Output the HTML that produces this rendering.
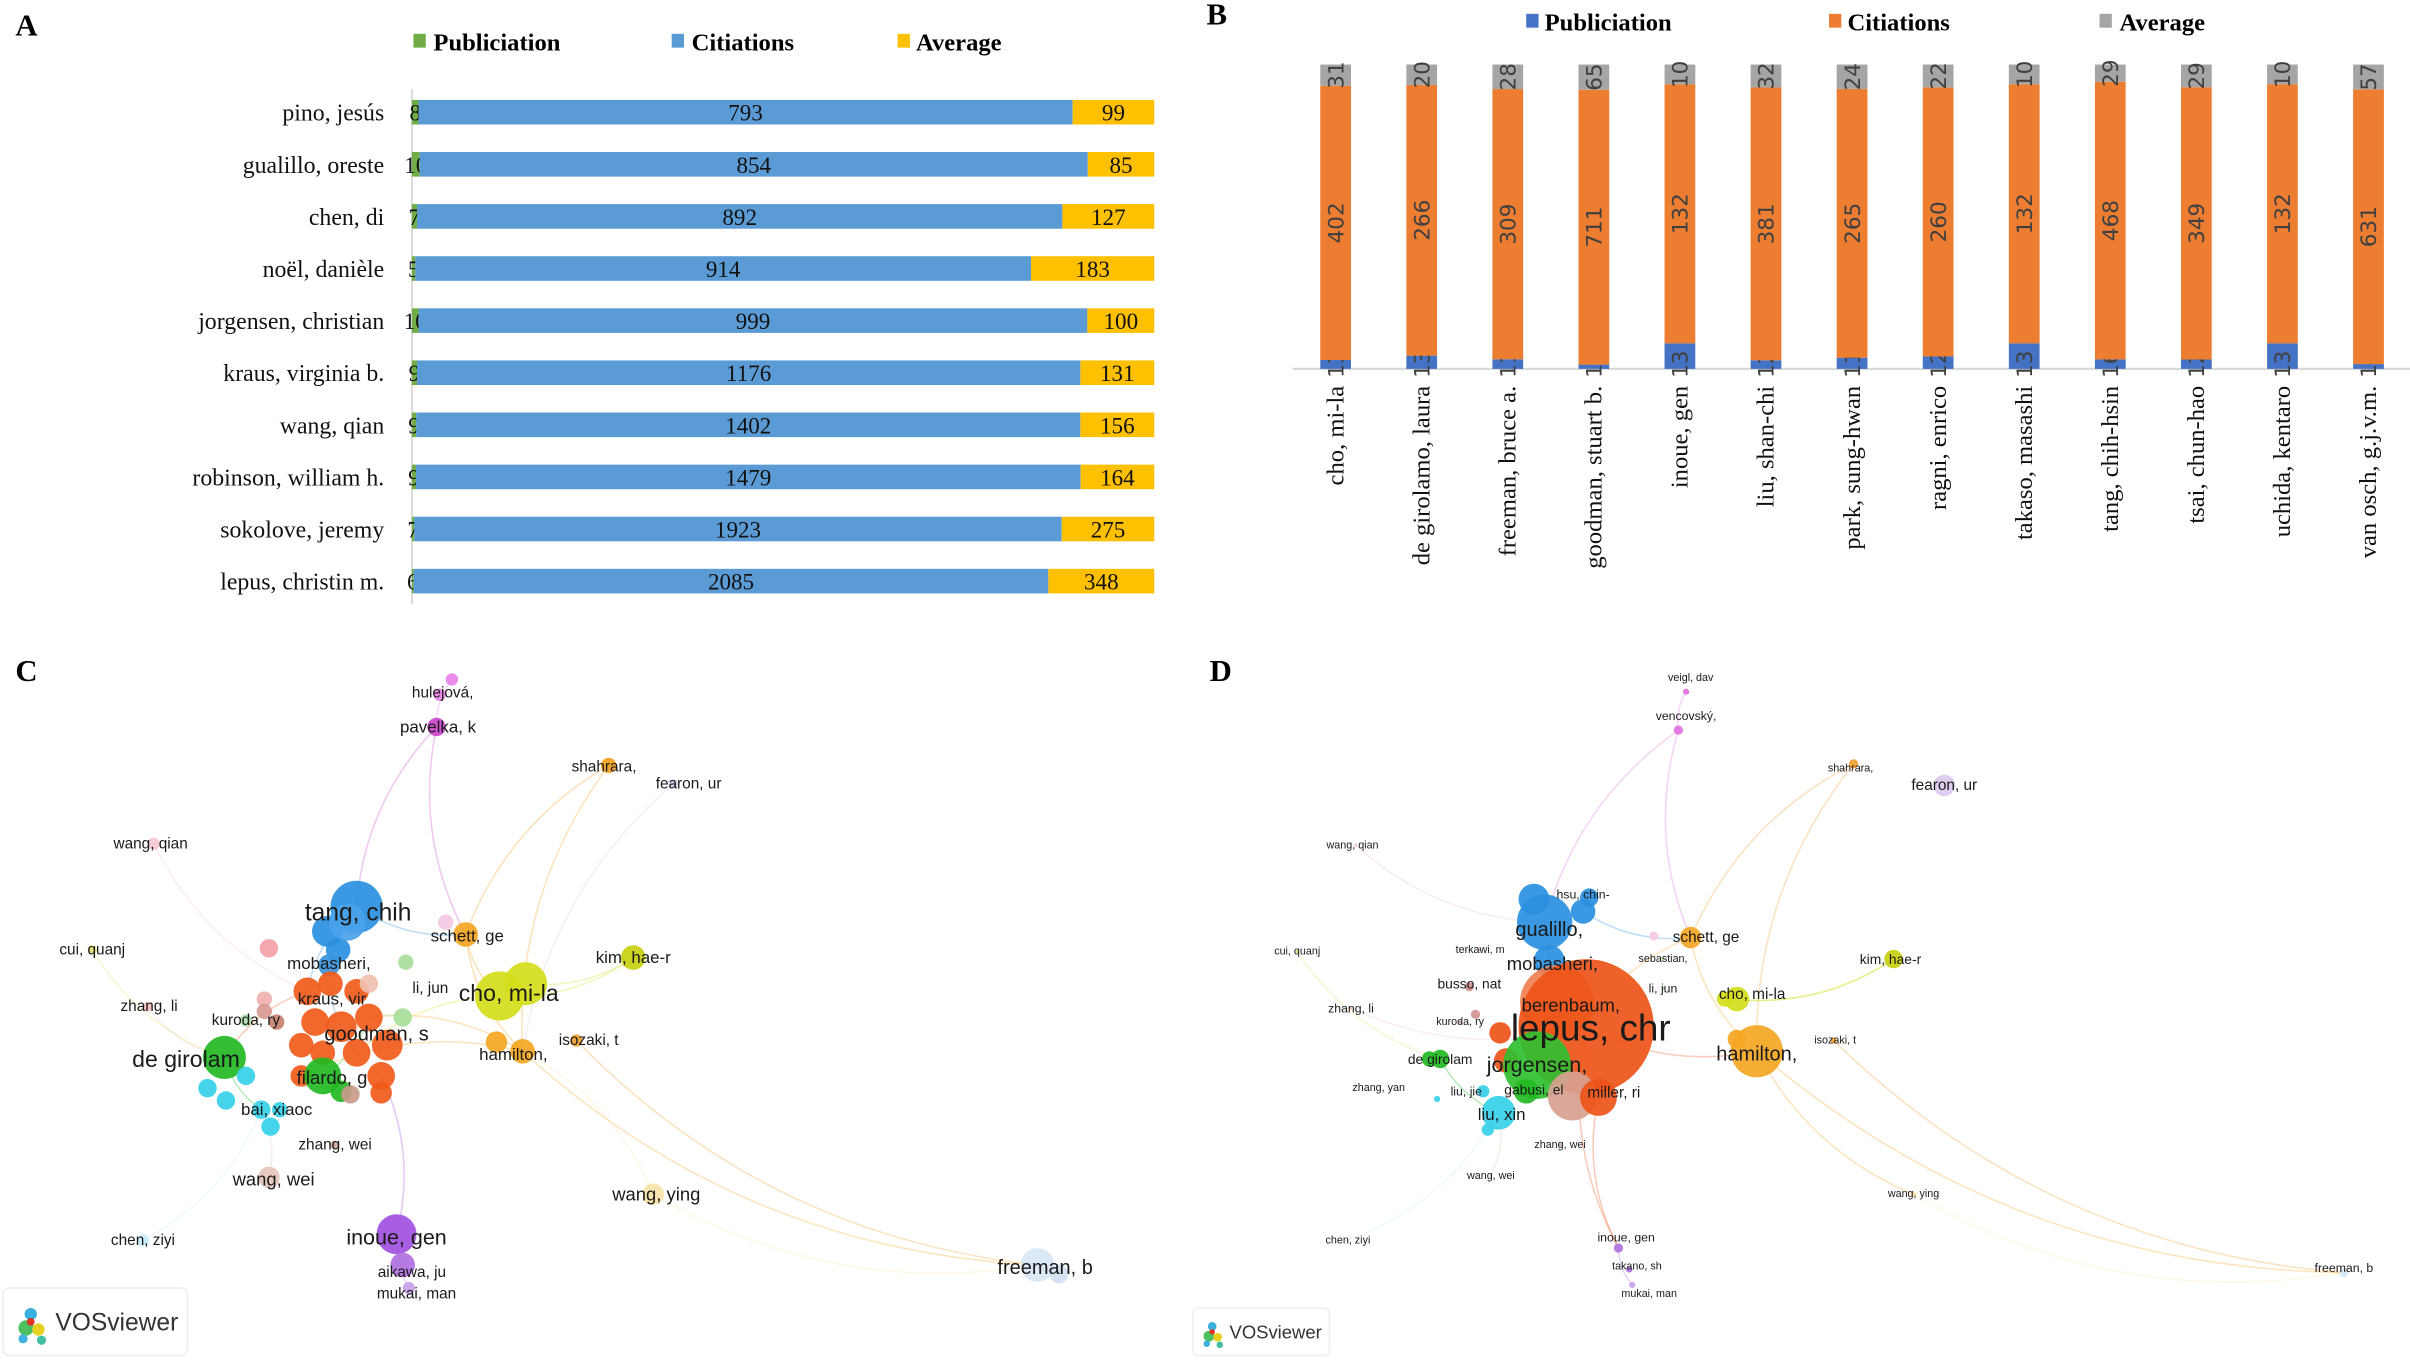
<!DOCTYPE html>
<html><head><meta charset="utf-8">
<style>
html,body{margin:0;padding:0;background:#fff;}
svg{display:block;}
</style></head>
<body>
<svg id="fig" width="2410" height="1361" viewBox="0 0 1568 885.5" xmlns="http://www.w3.org/2000/svg">
<rect width="1568" height="885.5" fill="#fff"/>
<g id="panelA">
  <text x="10" y="23" font-family="Liberation Serif, serif" font-weight="bold" font-size="20">A</text>
  <g font-family="Liberation Serif, serif" font-weight="bold" font-size="16">
    <rect x="269" y="22" width="8" height="9" fill="#70ad47"/>
    <text x="282" y="33">Publiciation</text>
    <rect x="437" y="22" width="8" height="9" fill="#5b9bd5"/>
    <text x="450" y="33">Citiations</text>
    <rect x="584" y="22" width="8" height="9" fill="#ffc000"/>
    <text x="596" y="33">Average</text>
  </g>
  <line x1="268" y1="58" x2="268" y2="393" stroke="#d9d9d9" stroke-width="1.2"/>
</g>
<g id="panelB">
  <text x="785" y="16" font-family="Liberation Serif, serif" font-weight="bold" font-size="20">B</text>
  <g font-family="Liberation Serif, serif" font-weight="bold" font-size="16">
    <rect x="993" y="9" width="8" height="9" fill="#4472c4"/>
    <text x="1005" y="20">Publiciation</text>
    <rect x="1190" y="9" width="8" height="9" fill="#ed7d31"/>
    <text x="1202" y="20">Citiations</text>
    <rect x="1366" y="9" width="8" height="9" fill="#a5a5a5"/>
    <text x="1379" y="20">Average</text>
  </g>
  <line x1="841" y1="240" x2="1568" y2="240" stroke="#d9d9d9" stroke-width="1.5"/>
</g>
<g id="panelC">
  <text x="10" y="443" font-family="Liberation Serif, serif" font-weight="bold" font-size="20">C</text>
</g>
<g id="panelD">
  <text x="787" y="443" font-family="Liberation Serif, serif" font-weight="bold" font-size="20">D</text>
</g>
</svg>
<script>
// ---------- Panel A data ----------
const aNames = ["pino, jesús","gualillo, oreste","chen, di","noël, danièle","jorgensen, christian","kraus, virginia b.","wang, qian","robinson, william h.","sokolove, jeremy","lepus, christin m."];
const aPub = [8,10,7,5,10,9,9,9,7,6];
const aCit = [793,854,892,914,999,1176,1402,1479,1923,2085];
const aAvg = [99,85,127,183,100,131,156,164,275,348];
// ---------- Panel B data ----------
const bNames = ["cho, mi-la","de girolamo, laura","freeman, bruce a.","goodman, stuart b.","inoue, gen","liu, shan-chi","park, sung-hwan","ragni, enrico","takaso, masashi","tang, chih-hsin","tsai, chun-hao","uchida, kentaro","van osch, g.j.v.m."];
const bPub = [13,13,11,11,13,12,11,12,13,16,12,13,11];
const bCit = [402,266,309,711,132,381,265,260,132,468,349,132,631];
const bAvg = [31,20,28,65,10,32,24,22,10,29,29,10,57];

const NS = "http://www.w3.org/2000/svg";
function mk(tag, attrs, parent){ const e=document.createElementNS(NS,tag); for(const k in attrs) e.setAttribute(k,attrs[k]); parent.appendChild(e); return e; }

// Panel A
(function(){
  const g = document.getElementById('panelA');
  const x0=268, W=483, yTop=73, step=33.9, bh=16;
  const xs = (frac)=> x0 + frac*W;
  const ys = (i)=> yTop + i*step;
  aNames.forEach((n,i)=>{
    const tot = aPub[i]+aCit[i]+aAvg[i];
    const y = ys(i);
    const segs = [[aPub[i],"#70ad47","pub"],[aCit[i],"#5b9bd5","cit"],[aAvg[i],"#ffc000","avg"]];
    let acc=0;
    segs.forEach(s=>{
      const xa=xs(acc/tot), xb=xs((acc+s[0])/tot);
      const r = mk('rect',{x:xa,y:y-bh/2,width:xb-xa,height:bh,fill:s[1]},g);
      
      
      const t = mk('text',{x:(xa+xb)/2,y:y+5.5,'text-anchor':'middle','font-family':'Liberation Serif, serif','font-size':'15',fill:'#111'},g);
      t.textContent = s[0];
      
      
      acc+=s[0];
    });
    const l = mk('text',{x:250,y:y+5.5,'text-anchor':'end','font-family':'Liberation Serif, serif','font-size':'15.5',fill:'#111'},g);
    l.textContent = n;
    
    
  });
})();

// Panel B
(function(){
  const g = document.getElementById('panelB');
  const base=240, H=198, xc0=869, step=56, bw=20;
  const xs=(i)=> xc0 + i*step;
  const ys=(frac)=> base - frac*H;
  bNames.forEach((n,i)=>{
    const tot=bPub[i]+bCit[i]+bAvg[i];
    const x=xs(i);
    const segs=[[bPub[i],"#4472c4","pub"],[bCit[i],"#ed7d31","cit"],[bAvg[i],"#a5a5a5","avg"]];
    let acc=0;
    segs.forEach((s,k)=>{
      const yb=ys(acc/tot), ya=ys((acc+s[0])/tot);
      const r=mk('rect',{x:x-bw/2,y:ya,width:bw,height:yb-ya,fill:s[1]},g);
      
      
      let cy=(ya+yb)/2;
      if(k===0) cy = base-3;
      const t=mk('text',{x:0,y:0,'text-anchor':'middle','font-family':'DejaVu Sans, sans-serif','font-size':'14',fill:'#404040',transform:'translate('+(x+5)+','+cy+') rotate(-90)'},g);
      t.textContent=s[0];
      
      
      acc+=s[0];
    });
    const l=mk('text',{x:0,y:0,'text-anchor':'end','font-family':'Liberation Serif, serif','font-size':'16',fill:'#111',transform:'translate('+(x+5)+',251) rotate(-90)'},g);
    l.textContent=n;
    
    
  });
})();

// Network panels: [x, y, r, color, label, fontSize, lx, ly]
const cNodes = [
 [294,442,4,"#e882e8","hulejová,",10,288,451],[286,452,4,"#e882e8","",0],
 [284,473,6,"#cc44cc","pavelka, k",11,285,473],
 [396,498,5,"#f5a020","shahrara,",10,393,499],[438,510,3,"#d8c8ec","fearon, ur",10,448,510],
 [100,549,4,"#f6c8d4","wang, qian",10,98,549],
 [232,590,17,"#2a8fe0","tang, chih",16,233,594],[213,606,10,"#2a8fe0","",0],[220,618,8,"#2a8fe0","",0],[226,600,12,"#4aa2ea","",0],
 [303,608,8,"#f5a623","schett, ge",11,304,609],[290,600,5,"#f6c8e4","",0],
 [214,628,7,"#3a94dc","mobasheri,",11,214,627],
 [412,623,8,"#c8d010","kim, hae-r",11,412,623],
 [60,618,3,"#e4e070","cui, quanj",10,60,618],
 [325,648,16,"#d4dd1a","cho, mi-la",15,331,646],[342,640,14,"#d4dd1a","",0],
 [264,626,5,"#a8e09a","",0],[262,662,6,"#a8e09a","li, jun",10,280,643],
 [96,655,3,"#f4c0c0","zhang, li",10,97,655],
 [175,617,6,"#f4a0a8","",0],[172,650,5,"#f0b0b0","",0],[172,658,5,"#d89a90","",0],[180,665,5,"#c88070","",0],
 [160,664,4,"#b0e0b0","kuroda, ry",10,160,664],
 [200,645,9,"#f05a1a","kraus, vir",11,216,650],[215,640,8,"#f05a1a","",0],[232,645,8,"#f05a1a","",0],[240,640,6,"#f0c0b0","",0],
 [205,665,9,"#f05a1a","",0],[222,668,10,"#f05a1a","",0],[240,662,9,"#f05a1a","goodman, s",13,245,673],[252,680,10,"#f05a1a","",0],
 [232,685,9,"#f05a1a","",0],[210,685,8,"#f05a1a","",0],[196,680,8,"#f05a1a","",0],[248,700,9,"#f05a1a","",0],[248,711,7,"#f05a1a","",0],
 [196,700,7,"#f05a1a","",0],
 [323,678,7,"#f5a623","",0],[340,684,8,"#f5a623","hamilton,",11,334,686],
 [375,677,4,"#f0a030","isozaki, t",10,383,677],
 [146,688,14,"#22b822","de girolam",15,121,689],
 [210,700,12,"#22b822","filardo, g",12,216,701],[222,710,7,"#22b822","",0],[228,712,6,"#c89a8a","",0],
 [135,708,6,"#36d0e8","",0],[147,716,6,"#36d0e8","",0],[160,700,6,"#36d0e8","",0],[170,722,6,"#36d0e8","bai, xiaoc",11,180,722],[176,733,6,"#36d0e8","",0],[182,722,5,"#36d0e8","",0],
 [218,745,3,"#d0a8a0","zhang, wei",10,218,745],
 [175,766,7,"#e4c4bc","wang, wei",12,178,767],
 [425,777,7,"#f8e4a8","wang, ying",12,427,777],
 [93,807,4,"#c8ecf8","chen, ziyi",10,93,807],
 [258,803,13,"#a050e0","inoue, gen",14,258,805],[262,823,8,"#b070e0","aikawa, ju",10,268,828],[266,838,4,"#c8a0e8","mukai, man",10,271,842],
 [675,823,11,"#d8e6f4","freeman, b",13,680,825],[689,829,6,"#d0e0f0","",0]
];
const cEdges = [[2,6],[2,10],[3,10],[3,40],[6,25],[10,15],[10,40],[15,13],[16,13],[40,31],[40,38],[41,59],[40,59],[54,40],[56,36],[56,57],[25,42],[42,49],[5,25],[4,40],[14,42],[19,42],[53,49],[55,49],[57,58],[12,33],[15,33],[43,31],[54,59],[18,31],[0,2],[6,10]];

const dNodes = [
 [1097,450,2,"#e070e0","veigl, dav",7,1100,441],[1092,475,3,"#e070e0","vencovský,",8,1097,466],
 [1206,497,3,"#f0a030","shahrara,",7,1204,500],[1265,511,7,"#dccaf0","fearon, ur",10,1265,511],
 [882,550,1,"#f0c0d0","wang, qian",7,880,550],
 [1030,593,8,"#2a8fe0","hsu, chin-",8,1030,582],[1034,584,6,"#2a8fe0","",0],
 [1005,600,18,"#2a8fe0","gualillo,",13,1008,605],[998,585,10,"#2a8fe0","",0],
 [1100,610,7,"#f5a623","schett, ge",10,1110,610],[1076,609,3,"#f6c8e4","",0],
 [1008,625,10,"#2a8fe0","mobasheri,",12,1010,627],
 [963,618,1,"#f0b0b0","terkawi, m",7,963,618],[1082,624,1,"#a8e09a","sebastian,",7,1082,624],
 [1232,624,6,"#c8d010","kim, hae-r",9,1230,624],
 [844,619,1,"#e4e070","cui, quanj",7,844,619],
 [1082,643,1,"#a8e09a","li, jun",8,1082,643],
 [956,642,3,"#d09090","busso, nat",9,956,640],[960,660,3,"#d09090","",0],
 [1013,652,24,"#f08050","berenbaum,",12,1022,654],
 [1130,650,8,"#d4dd1a","cho, mi-la",10,1140,647],[1122,650,5,"#d4dd1a","",0],
 [879,656,1,"#f4c0c0","zhang, li",8,879,656],
 [950,665,1,"#c0a0a0","kuroda, ry",7,950,665],
 [1032,668,44,"#ee5418","lepus, chr",24,1035,669],[976,672,7,"#ee5418","",0],[980,690,8,"#ee5418","",0],
 [1143,684,17,"#f5a623","hamilton,",13,1143,686],[1130,676,6,"#f5a623","",0],
 [1193,677,2,"#f0a030","isozaki, t",7,1194,677],
 [937,689,6,"#22b822","de girolam",9,937,689],[930,689,5,"#22b822","",0],
 [1000,693,22,"#30c030","jorgensen,",14,1000,693],[993,710,8,"#22b822","gabusi, el",9,998,709],
 [1023,713,16,"#d8a090","",0],[1040,714,12,"#ee5418","miller, ri",10,1050,711],
 [965,710,4,"#36d0e8","liu, jie",8,954,710],[935,715,2,"#36d0e8","zhang, yan",7,897,708],
 [975,724,11,"#36d0e8","liu, xin",11,977,725],[968,735,4,"#36d0e8","",0],
 [1015,745,1,"#d0a8a0","zhang, wei",7,1015,745],
 [970,765,1,"#e4c4bc","wang, wei",7,970,765],
 [1245,777,2,"#f8e4a8","wang, ying",7,1245,777],
 [877,807,1,"#c8ecf8","chen, ziyi",7,877,807],
 [1053,812,3,"#b070e0","inoue, gen",8,1058,805],[1060,826,2,"#b070e0","takano, sh",7,1065,824],[1062,836,2,"#c8a0e8","mukai, man",7,1073,842],
 [1525,828,3,"#d8e6f4","freeman, b",8,1525,825]
];
const dEdges = [[1,9],[0,1],[2,9],[2,27],[7,24],[9,24],[9,27],[20,14],[21,14],[24,27],[24,38],[24,44],[35,44],[27,47],[27,42],[4,7],[15,30],[22,24],[1,7],[30,38],[41,38],[43,38],[29,47],[24,35],[5,9],[42,47],[44,46]];

function drawNet(gid, nodes, edges, prefix){
  const g=document.getElementById(gid);
  const eg=mk('g',{},g);
  edges.forEach((e,i)=>{
    const a=nodes[e[0]], b=nodes[e[1]];
    if(!a||!b) return;
    const mx=(a[0]+b[0])/2, my=(a[1]+b[1])/2;
    const dx=b[0]-a[0], dy=b[1]-a[1];
    const cx=mx-dy*0.18, cy=my+dx*0.18;
    const p=mk('path',{d:'M'+a[0]+','+a[1]+' Q'+cx+','+cy+' '+b[0]+','+b[1],fill:'none',stroke:a[3],'stroke-opacity':'0.3','stroke-width':'1'},eg);
    
    
  });
  const ng=mk('g',{},g);
  nodes.forEach((n,i)=>{
    const c=mk('circle',{cx:n[0],cy:n[1],r:n[2],fill:n[3],'fill-opacity':'0.92'},ng);
    
    
  });
  const lg=mk('g',{},g);
  nodes.forEach((n,i)=>{
    if(!n[4]) return;
    const t=mk('text',{x:n[6],y:n[7],'text-anchor':'middle','dominant-baseline':'central','font-family':'Liberation Sans, sans-serif','font-size':n[5],fill:'#1a1a1a'},lg);
    t.textContent=n[4];
    
    
  });
}
drawNet('panelC', cNodes, cEdges, 'c');
drawNet('panelD', dNodes, dEdges, 'd');

function logo(gid,x,y,w,h,fs,prefix){
  const g=document.getElementById(gid);
  const b=mk('rect',{x:x,y:y,width:w,height:h,rx:4,fill:'#fff',stroke:'#eeeeee','stroke-width':'1'},g);
  
  
  const ic=mk('g',{},g);
  
  
  const s=h/44;
  mk('circle',{cx:x+18*s,cy:y+17*s,r:4*s,fill:'#3ab0e0'},ic);
  mk('circle',{cx:x+15*s,cy:y+26*s,r:5*s,fill:'#4cc060'},ic);
  mk('circle',{cx:x+23*s,cy:y+27*s,r:4*s,fill:'#e8d020'},ic);
  mk('circle',{cx:x+18*s,cy:y+22*s,r:2.5*s,fill:'#e03020'},ic);
  mk('circle',{cx:x+13*s,cy:y+33*s,r:3*s,fill:'#40b0e0'},ic);
  mk('circle',{cx:x+25*s,cy:y+34*s,r:3*s,fill:'#40c0a0'},ic);
  const t=mk('text',{x:x+34*s,y:y+h/2+fs*0.36,'font-family':'Liberation Sans, sans-serif','font-size':fs,fill:'#333'},g);
  t.textContent='VOSviewer';
  
  
}
logo('panelC',2,838,120,44,16,'c');
logo('panelD',776,851,89,31,12,'d');
</script>
</body></html>
